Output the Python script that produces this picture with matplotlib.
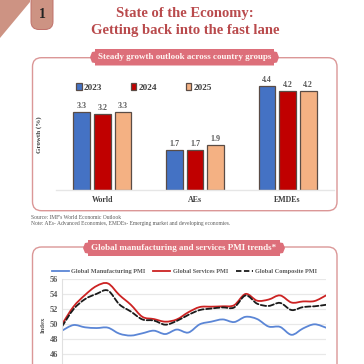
#!/usr/bin/python
# -*- coding: utf-8 -*-
from matplotlib import pyplot as plt
from matplotlib.lines import Line2D
from matplotlib.patches import FancyBboxPatch, PathPatch, Polygon
from matplotlib.path import Path

# data
groups = ['World', 'AEs', 'EMDEs']
years = ['2023', '2024', '2025']
growth_2023 = [3.3, 1.7, 4.4]
growth_2024 = [3.2, 1.7, 4.2]
growth_2025 = [3.3, 1.9, 4.2]

pmi_ticks = [46, 48, 50, 52, 54, 56]
pmi_manufacturing = [49.15, 49.9, 49.6, 49.5, 49.55, 48.75, 48.5, 48.8, 49.15, 48.7, 49.3, 48.9,
                     50.0, 50.35, 50.65, 50.3, 51.0, 50.7, 49.7, 49.65, 48.6, 49.45, 50.0, 49.55]
pmi_services = [50.0, 52.35, 53.9, 55.1, 55.45, 53.9, 52.6, 51.0, 50.7, 50.35, 50.65, 51.6,
                52.3, 52.35, 52.4, 52.55, 54.05, 53.15, 53.3, 53.85, 52.9, 53.05, 53.1, 53.85]
pmi_composite = [49.7, 52.0, 53.35, 54.05, 54.5, 52.65, 51.7, 50.65, 50.5, 49.95, 50.45, 51.25,
                 51.9, 52.1, 52.25, 52.25, 53.85, 52.75, 52.45, 52.85, 51.9, 52.3, 52.4, 52.6]

SIZE = 364.0
SERIF = 'Liberation Serif'
TITLE_RED = '#B94A4C'
PANEL = '#DB9797'
BANNER = '#DD6F7A'
GREY = '#595959'


def px_axes(x0, y0, x1, y1):
    # axes from pixel box (y counted from the top)
    return fig.add_axes([x0 / SIZE, 1 - y1 / SIZE, (x1 - x0) / SIZE, (y1 - y0) / SIZE])


def banner(x0, x1, y0, y1, text):
    mid = (y0 + y1) / 2
    pts = [(x0, mid), (x0 + 2, y0 + 3), (x0 + 5, y0 + 2.5), (x0 + 5, y0), (x1 - 5, y0), (x1 - 5, y0 + 2.5),
           (x1 - 2, y0 + 3), (x1, mid), (x1 - 2, y1 - 3), (x1 - 5, y1 - 2.5), (x1 - 5, y1), (x0 + 5, y1),
           (x0 + 5, y1 - 2.5), (x0 + 2, y1 - 3)]
    bg.add_patch(Polygon(pts, closed=True, fc=BANNER, ec='none', zorder=3))
    bg.text((x0 + x1) / 2, mid, text, color='#FFF5F2', fontsize=6.5, fontweight='bold', family=SERIF,
            ha='center', va='center', zorder=4)


def smooth_line(axis, xs, ys, color, ls='-'):
    # spreadsheet style smoothed line: one bezier segment between two data points
    verts = [(xs[0], ys[0])]
    codes = [Path.MOVETO]
    n = len(xs)
    for i in range(n - 1):
        a = max(i - 1, 0)
        b = min(i + 2, n - 1)
        verts.append((xs[i] + (xs[i + 1] - xs[a]) / 6.0, ys[i] + (ys[i + 1] - ys[a]) / 6.0))
        verts.append((xs[i + 1] - (xs[b] - xs[i]) / 6.0, ys[i + 1] - (ys[b] - ys[i]) / 6.0))
        verts.append((xs[i + 1], ys[i + 1]))
        codes += [Path.CURVE4] * 3
    axis.add_patch(PathPatch(Path(verts, codes), fc='none', ec=color, lw=1.3, ls=ls, capstyle='round'))


fig = plt.figure(figsize=(3.64, 3.64), dpi=100)

# background layer in pixel coordinates
bg = fig.add_axes([0, 0, 1, 1])
bg.set_xlim(0, SIZE)
bg.set_ylim(SIZE, 0)
bg.axis('off')

bg.add_patch(Polygon([(0, 38), (30, 2), (30, 0), (0, 0)], closed=True, fc='#CD9383', ec='none'))
bg.add_patch(FancyBboxPatch((31, -12), 22, 41.5, boxstyle='round,pad=0,rounding_size=8',
                            fc='#CD9383', ec='#C0706A', lw=0.7))
bg.text(42, 15, '1', fontsize=10, fontweight='bold', family=SERIF, color='#222222', ha='center', va='center')

bg.text(185, 14, 'State of the Economy:', fontsize=10.5, fontweight='bold', family=SERIF,
        color=TITLE_RED, ha='center', va='center')
bg.text(185, 30.5, 'Getting back into the fast lane', fontsize=10.5, fontweight='bold', family=SERIF,
        color=TITLE_RED, ha='center', va='center')

bg.add_patch(FancyBboxPatch((32.5, 57.7), 304.5, 153, boxstyle='round,pad=0,rounding_size=9',
                            fc='white', ec=PANEL, lw=1))
bg.add_patch(FancyBboxPatch((32.5, 247), 304.5, 160, boxstyle='round,pad=0,rounding_size=9',
                            fc='white', ec=PANEL, lw=1))
banner(90, 279, 49, 65.5, 'Steady growth outlook across country groups')
banner(83, 285, 240, 256, 'Global manufacturing and services PMI trends*')

bg.text(31, 217.5, "Source: IMF's World Economic Outlook", fontsize=4.0, family=SERIF, color=GREY, va='center')
bg.text(31, 224, 'Note: AEs- Advanced Economies, EMDEs- Emerging market and developing economies.',
        fontsize=4.0, family=SERIF, color=GREY, va='center')

# bar chart
ax = px_axes(56, 72, 334, 190)
ax.patch.set_alpha(0)
bar_colors = ['#4472C4', '#C00000', '#F4B183']
series = [growth_2023, growth_2024, growth_2025]
bar_w = 0.183
for k in range(3):
    pos = [i + (k - 1) * 0.223 for i in range(len(groups))]
    bars = ax.bar(pos, series[k], bar_w, color=bar_colors[k], edgecolor='#5A4C46', linewidth=0.9,
                  label=years[k])
    for b, v in zip(bars, series[k]):
        ax.text(b.get_x() + bar_w / 2, v + 0.09, '%.1f' % v, fontsize=5.8, family=SERIF, fontweight='bold',
                color=GREY, ha='center', va='bottom')
ax.set_xlim(-0.5, 2.5)
ax.set_ylim(0, 5)
ax.set_yticks([])
ax.set_xticks(range(3))
ax.set_xticklabels(groups, fontsize=5.7, family=SERIF, fontweight='bold', color='#404040')
ax.tick_params(axis='x', length=0, pad=4)
for s in ['top', 'left', 'right']:
    ax.spines[s].set_visible(False)
ax.spines['bottom'].set_color('#E6E6E6')
ax.spines['bottom'].set_linewidth(1)
bg.text(39, 135, 'Growth (%)', rotation=90, fontsize=5, family=SERIF, fontweight='bold', color='#404040',
        ha='center', va='center')
ax.legend(loc='upper left', bbox_to_anchor=(0.073, 0.905), ncol=3, frameon=False, handlelength=0.6, handleheight=0.7,
          handletextpad=0.25, columnspacing=3.1, borderaxespad=0, borderpad=0,
          prop={'family': SERIF, 'size': 6.6, 'weight': 'bold'}, labelcolor='#404040')

# PMI chart, runs off the bottom of the page
ax2 = px_axes(62, 279.3, 326, 369.3)
ax2.patch.set_alpha(0)
months = list(range(len(pmi_services)))
smooth_line(ax2, months, pmi_manufacturing, '#5B86D6')
smooth_line(ax2, months, pmi_services, '#CC2222')
smooth_line(ax2, months, pmi_composite, '#1A1A1A', ls=(0, (3, 1.4)))
ax2.set_xlim(0, 23)
ax2.set_ylim(44, 56)
ax2.set_yticks(pmi_ticks)
ax2.set_xticks([])
ax2.tick_params(axis='y', length=0, pad=3, labelsize=6, labelcolor=GREY)
for t in ax2.get_yticklabels():
    t.set_family(SERIF)
    t.set_fontweight('bold')
ax2.grid(axis='y', color='#E8E8E8', lw=0.9)
ax2.set_axisbelow(True)
for s in ['top', 'right', 'bottom']:
    ax2.spines[s].set_visible(False)
ax2.spines['left'].set_color('#E0E0E0')
bg.text(43, 324.5, 'Index', rotation=90, fontsize=4.9, family=SERIF, fontweight='bold', color=GREY,
        ha='center', va='center')
handles = [Line2D([], [], color='#5B86D6', lw=1.3),
           Line2D([], [], color='#CC2222', lw=1.3),
           Line2D([], [], color='#1A1A1A', lw=1.3, ls=(0, (3, 1.4)))]
ax2.legend(handles, ['Global Manufacturing PMI', 'Global Services PMI', 'Global Composite PMI'],
           loc='lower left', bbox_to_anchor=(-0.038, 1.055), ncol=3, frameon=False, handlelength=2.66,
           handletextpad=0.45, columnspacing=1.25, borderaxespad=0, borderpad=0,
           prop={'family': SERIF, 'size': 4.5, 'weight': 'bold'}, labelcolor=GREY)

fig.savefig('out.png', dpi=100)
